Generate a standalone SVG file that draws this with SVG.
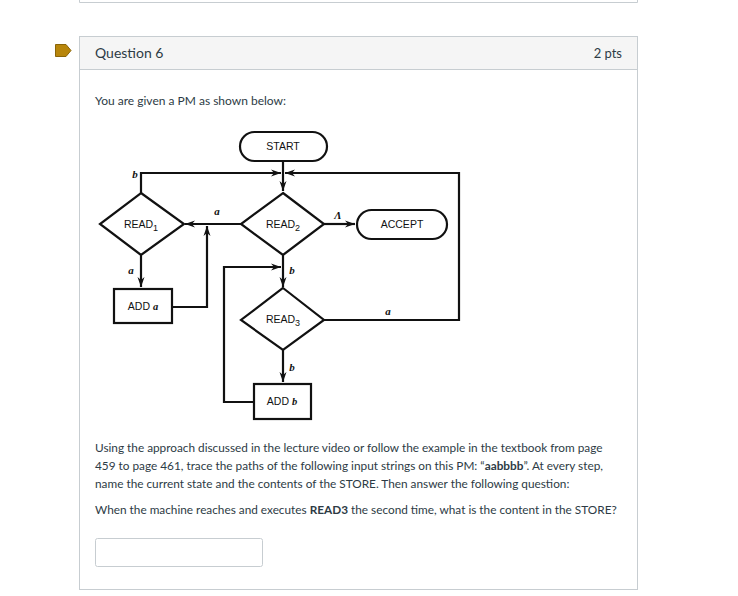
<svg xmlns="http://www.w3.org/2000/svg" width="738" height="596" viewBox="0 0 738 596">
<defs>
<marker id="ah" viewBox="0 0 10 8" refX="10" refY="4" markerWidth="10" markerHeight="8" markerUnits="userSpaceOnUse" orient="auto">
<path d="M0,0.5 L10,4 L0,7.5 L3,4 Z" fill="#111"/>
</marker>
<style>
.web{font-family:Lato,"Liberation Sans",sans-serif;fill:#2d3b45}
.nd{fill:none;stroke:#111;stroke-width:2.2}
.nt{font-family:"Liberation Sans",Arial,sans-serif;font-size:10.5px;fill:#111;text-anchor:middle}
.sub{font-size:9px}
.lb{font-family:"Liberation Serif",serif;font-style:italic;font-weight:bold;font-size:11px;fill:#111;text-anchor:middle}
.cn{fill:none;stroke:#111;stroke-width:2.2}
</style>
</defs>
<rect width="738" height="596" fill="#fff"/>
<path d="M79.5,0 V2.5 H637.5 V0" fill="none" stroke="#c7cdd1"/>
<rect x="79.5" y="36.5" width="558" height="553" fill="#fff" stroke="#c7cdd1"/>
<rect x="80" y="37" width="557" height="32" fill="#f5f5f5"/>
<line x1="79.5" y1="69.5" x2="637.5" y2="69.5" stroke="#c7cdd1"/>
<path d="M55.5,44.5 H66 L71,50.5 L66,56.5 H55.5 Z" fill="#b8860b" stroke="#8a6508"/>
<text class="web" x="95" y="58" font-size="14">Question 6</text>
<text class="web" x="622" y="58" font-size="13" text-anchor="end">2 pts</text>
<text class="web" x="95" y="105" font-size="12">You are given a PM as shown below:</text>

<g id="connectors">
<path class="cn" d="M283,161 V191" marker-end="url(#ah)"/>
<path class="cn" d="M141,193 V173 H281" marker-end="url(#ah)"/>
<path class="cn" d="M324,320 H459 V173 H285" marker-end="url(#ah)"/>
<path class="cn" d="M241,224 H185" marker-end="url(#ah)"/>
<path class="cn" d="M141,255 V287" marker-end="url(#ah)"/>
<path class="cn" d="M172,307 H207 V226" marker-end="url(#ah)"/>
<path class="cn" d="M324,224 H355" marker-end="url(#ah)"/>
<path class="cn" d="M283,255 V287" marker-end="url(#ah)"/>
<path class="cn" d="M254,402 H224 V267 H281" marker-end="url(#ah)"/>
<path class="cn" d="M283,350 V382" marker-end="url(#ah)"/>
<text class="lb" x="135" y="178">b</text>
<text class="lb" x="217" y="215">a</text>
<text class="lb" x="131" y="274">a</text>
<text class="lb" x="338" y="219" font-style="normal" font-weight="normal" font-family="Liberation Sans,sans-serif" font-size="10">Λ</text>
<text class="lb" x="292" y="274">b</text>
<text class="lb" x="388" y="315">a</text>
<text class="lb" x="292" y="371">b</text>
</g>

<g id="start">
<rect class="nd" x="240" y="132" width="87" height="29" rx="14.5"/>
<text class="nt" x="283" y="150">START</text>
</g>
<g id="read1">
<path class="nd" d="M141,193 L184,224 L141,255 L100,224 Z"/>
<text class="nt" x="141" y="228">READ<tspan class="sub" dy="3">1</tspan></text>
</g>
<g id="read2">
<path class="nd" d="M283,193 L324,224 L283,255 L241,224 Z"/>
<text class="nt" x="283" y="228">READ<tspan class="sub" dy="3">2</tspan></text>
</g>
<g id="accept">
<rect class="nd" x="357" y="210" width="90" height="29" rx="14.5"/>
<text class="nt" x="402" y="228">ACCEPT</text>
</g>
<g id="adda">
<rect class="nd" x="114" y="289" width="58" height="34"/>
<text class="nt" x="143" y="310">ADD <tspan font-family="Liberation Serif,serif" font-style="italic" font-weight="bold">a</tspan></text>
</g>
<g id="read3">
<path class="nd" d="M283,288 L324,320 L283,350 L241,320 Z"/>
<text class="nt" x="283" y="323">READ<tspan class="sub" dy="3">3</tspan></text>
</g>
<g id="addb">
<rect class="nd" x="254" y="384" width="57" height="35"/>
<text class="nt" x="282" y="405">ADD <tspan font-family="Liberation Serif,serif" font-style="italic" font-weight="bold">b</tspan></text>
</g>

<text class="web" x="95" y="452" font-size="11.8">Using the approach discussed in the lecture video or follow the example in the textbook from page</text>
<text class="web" x="95" y="470" font-size="11.8">459 to page 461, trace the paths of the following input strings on this PM: “<tspan font-weight="bold">aabbbb</tspan>”. At every step,</text>
<text class="web" x="95" y="488" font-size="11.8">name the current state and the contents of the STORE. Then answer the following question:</text>
<text class="web" x="95" y="514" font-size="11.8">When the machine reaches and executes <tspan font-weight="bold">READ3</tspan> the second time, what is the content in the STORE?</text>
<rect x="95.5" y="538.5" width="167" height="28" rx="2" fill="#fff" stroke="#c7cdd1"/>
</svg>
